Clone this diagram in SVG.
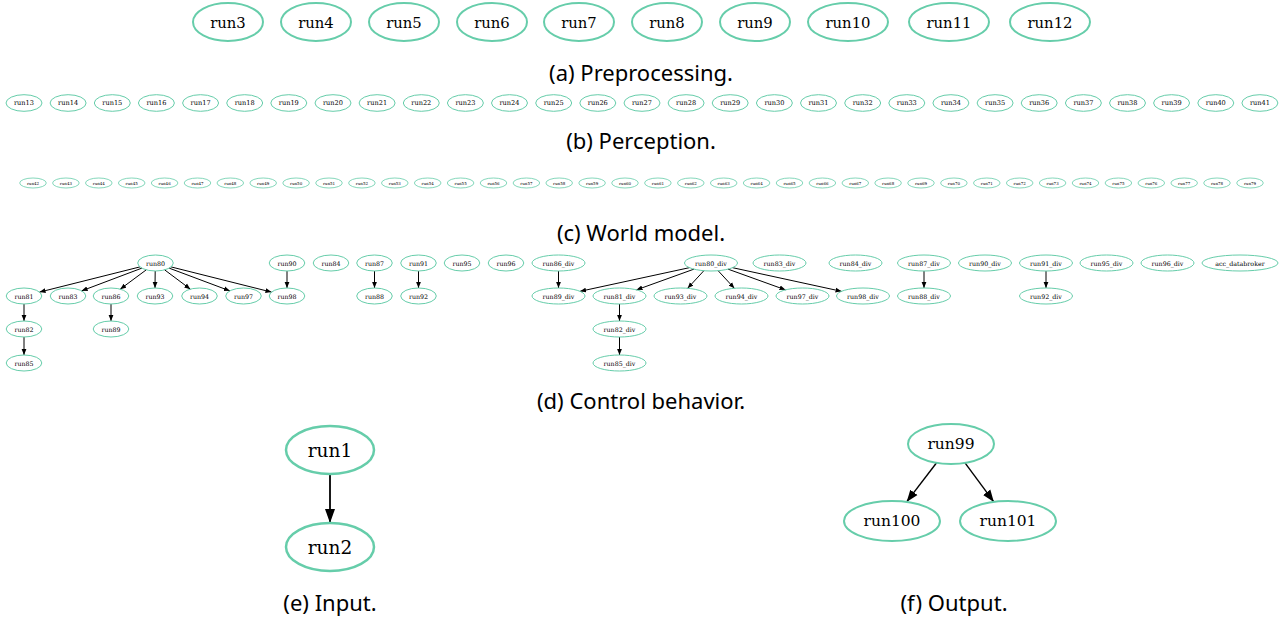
<svg xmlns="http://www.w3.org/2000/svg" width="1282" height="621" viewBox="0 0 1282 621">
<style>
ellipse{fill:none;stroke:#66cdaa}
text{font-family:"DejaVu Serif","Liberation Serif",serif;fill:#000;text-anchor:middle;dominant-baseline:central}
.a ellipse{stroke-width:2}
.a text{font-size:14.8px}
.b ellipse{stroke-width:1}
.b text{font-size:6.6px}
.c ellipse{stroke-width:0.8}
.c text{font-size:4px}
.d ellipse{stroke-width:1}
.d text{font-size:6.3px}
.e ellipse{stroke-width:2.5}
.e text{font-size:18.5px}
.f ellipse{stroke-width:2}
.f text{font-size:15.5px}
.cap{font-family:"Noto Sans","Open Sans",sans-serif;font-size:22px;dominant-baseline:auto;fill:#000}
.edges line{stroke:#000;stroke-width:1}
.edges.big line{stroke-width:1.8}
.edges.mid line{stroke-width:1.4}
</style>
<defs>
<marker id="ahs" markerUnits="userSpaceOnUse" markerWidth="8" markerHeight="6" refX="6" refY="3" orient="auto"><path d="M0,0.6 L6,3 L0,5.4 z" fill="#000"/></marker>
<marker id="ahb" markerUnits="userSpaceOnUse" markerWidth="16" markerHeight="12" refX="14" refY="6" orient="auto"><path d="M0,1 L14,6 L0,11 z" fill="#000"/></marker>
<marker id="ahm" markerUnits="userSpaceOnUse" markerWidth="14" markerHeight="12" refX="12" refY="5" orient="auto"><path d="M0,0.5 L12,5 L0,9.5 z" fill="#000"/></marker>
</defs>
<rect width="1282" height="621" fill="#fff"/>

<!-- (a) Preprocessing -->
<g class="a">
<g id="run3"><ellipse cx="228" cy="22" rx="35" ry="19"/><text x="228" y="22">run3</text></g>
<g id="run4"><ellipse cx="316" cy="22" rx="35" ry="19"/><text x="316" y="22">run4</text></g>
<g id="run5"><ellipse cx="404" cy="22" rx="35" ry="19"/><text x="404" y="22">run5</text></g>
<g id="run6"><ellipse cx="492" cy="22" rx="35" ry="19"/><text x="492" y="22">run6</text></g>
<g id="run7"><ellipse cx="579" cy="22" rx="35" ry="19"/><text x="579" y="22">run7</text></g>
<g id="run8"><ellipse cx="667" cy="22" rx="35" ry="19"/><text x="667" y="22">run8</text></g>
<g id="run9"><ellipse cx="755" cy="22" rx="35" ry="19"/><text x="755" y="22">run9</text></g>
<g id="run10"><ellipse cx="848" cy="22" rx="40" ry="19"/><text x="848" y="22">run10</text></g>
<g id="run11"><ellipse cx="949" cy="22" rx="40" ry="19"/><text x="949" y="22">run11</text></g>
<g id="run12"><ellipse cx="1050" cy="22" rx="40" ry="19"/><text x="1050" y="22">run12</text></g>
</g>
<text class="cap" x="641" y="81">(a) Preprocessing.</text>

<!-- (b) Perception -->
<g class="b">
<g id="run13"><ellipse cx="24" cy="103" rx="18" ry="8.3"/><text x="24" y="103">run13</text></g>
<g id="run14"><ellipse cx="68.1" cy="103" rx="18" ry="8.3"/><text x="68.1" y="103">run14</text></g>
<g id="run15"><ellipse cx="112.3" cy="103" rx="18" ry="8.3"/><text x="112.3" y="103">run15</text></g>
<g id="run16"><ellipse cx="156.4" cy="103" rx="18" ry="8.3"/><text x="156.4" y="103">run16</text></g>
<g id="run17"><ellipse cx="200.6" cy="103" rx="18" ry="8.3"/><text x="200.6" y="103">run17</text></g>
<g id="run18"><ellipse cx="244.7" cy="103" rx="18" ry="8.3"/><text x="244.7" y="103">run18</text></g>
<g id="run19"><ellipse cx="288.8" cy="103" rx="18" ry="8.3"/><text x="288.8" y="103">run19</text></g>
<g id="run20"><ellipse cx="333" cy="103" rx="18" ry="8.3"/><text x="333" y="103">run20</text></g>
<g id="run21"><ellipse cx="377.1" cy="103" rx="18" ry="8.3"/><text x="377.1" y="103">run21</text></g>
<g id="run22"><ellipse cx="421.3" cy="103" rx="18" ry="8.3"/><text x="421.3" y="103">run22</text></g>
<g id="run23"><ellipse cx="465.4" cy="103" rx="18" ry="8.3"/><text x="465.4" y="103">run23</text></g>
<g id="run24"><ellipse cx="509.5" cy="103" rx="18" ry="8.3"/><text x="509.5" y="103">run24</text></g>
<g id="run25"><ellipse cx="553.7" cy="103" rx="18" ry="8.3"/><text x="553.7" y="103">run25</text></g>
<g id="run26"><ellipse cx="597.8" cy="103" rx="18" ry="8.3"/><text x="597.8" y="103">run26</text></g>
<g id="run27"><ellipse cx="642" cy="103" rx="18" ry="8.3"/><text x="642" y="103">run27</text></g>
<g id="run28"><ellipse cx="686.1" cy="103" rx="18" ry="8.3"/><text x="686.1" y="103">run28</text></g>
<g id="run29"><ellipse cx="730.2" cy="103" rx="18" ry="8.3"/><text x="730.2" y="103">run29</text></g>
<g id="run30"><ellipse cx="774.4" cy="103" rx="18" ry="8.3"/><text x="774.4" y="103">run30</text></g>
<g id="run31"><ellipse cx="818.5" cy="103" rx="18" ry="8.3"/><text x="818.5" y="103">run31</text></g>
<g id="run32"><ellipse cx="862.7" cy="103" rx="18" ry="8.3"/><text x="862.7" y="103">run32</text></g>
<g id="run33"><ellipse cx="906.8" cy="103" rx="18" ry="8.3"/><text x="906.8" y="103">run33</text></g>
<g id="run34"><ellipse cx="950.9" cy="103" rx="18" ry="8.3"/><text x="950.9" y="103">run34</text></g>
<g id="run35"><ellipse cx="995.1" cy="103" rx="18" ry="8.3"/><text x="995.1" y="103">run35</text></g>
<g id="run36"><ellipse cx="1039.2" cy="103" rx="18" ry="8.3"/><text x="1039.2" y="103">run36</text></g>
<g id="run37"><ellipse cx="1083.4" cy="103" rx="18" ry="8.3"/><text x="1083.4" y="103">run37</text></g>
<g id="run38"><ellipse cx="1127.5" cy="103" rx="18" ry="8.3"/><text x="1127.5" y="103">run38</text></g>
<g id="run39"><ellipse cx="1171.6" cy="103" rx="18" ry="8.3"/><text x="1171.6" y="103">run39</text></g>
<g id="run40"><ellipse cx="1215.8" cy="103" rx="18" ry="8.3"/><text x="1215.8" y="103">run40</text></g>
<g id="run41"><ellipse cx="1259.9" cy="103" rx="18" ry="8.3"/><text x="1259.9" y="103">run41</text></g>
</g>
<text class="cap" x="641" y="149">(b) Perception.</text>

<!-- (c) World model -->
<g class="c">
<g id="run42"><ellipse cx="33" cy="183" rx="13.3" ry="5"/><text x="33" y="183">run42</text></g>
<g id="run43"><ellipse cx="65.9" cy="183" rx="13.3" ry="5"/><text x="65.9" y="183">run43</text></g>
<g id="run44"><ellipse cx="98.8" cy="183" rx="13.3" ry="5"/><text x="98.8" y="183">run44</text></g>
<g id="run45"><ellipse cx="131.7" cy="183" rx="13.3" ry="5"/><text x="131.7" y="183">run45</text></g>
<g id="run46"><ellipse cx="164.6" cy="183" rx="13.3" ry="5"/><text x="164.6" y="183">run46</text></g>
<g id="run47"><ellipse cx="197.5" cy="183" rx="13.3" ry="5"/><text x="197.5" y="183">run47</text></g>
<g id="run48"><ellipse cx="230.3" cy="183" rx="13.3" ry="5"/><text x="230.3" y="183">run48</text></g>
<g id="run49"><ellipse cx="263.2" cy="183" rx="13.3" ry="5"/><text x="263.2" y="183">run49</text></g>
<g id="run50"><ellipse cx="296.1" cy="183" rx="13.3" ry="5"/><text x="296.1" y="183">run50</text></g>
<g id="run51"><ellipse cx="329" cy="183" rx="13.3" ry="5"/><text x="329" y="183">run51</text></g>
<g id="run52"><ellipse cx="361.9" cy="183" rx="13.3" ry="5"/><text x="361.9" y="183">run52</text></g>
<g id="run53"><ellipse cx="394.8" cy="183" rx="13.3" ry="5"/><text x="394.8" y="183">run53</text></g>
<g id="run54"><ellipse cx="427.7" cy="183" rx="13.3" ry="5"/><text x="427.7" y="183">run54</text></g>
<g id="run55"><ellipse cx="460.6" cy="183" rx="13.3" ry="5"/><text x="460.6" y="183">run55</text></g>
<g id="run56"><ellipse cx="493.5" cy="183" rx="13.3" ry="5"/><text x="493.5" y="183">run56</text></g>
<g id="run57"><ellipse cx="526.4" cy="183" rx="13.3" ry="5"/><text x="526.4" y="183">run57</text></g>
<g id="run58"><ellipse cx="559.2" cy="183" rx="13.3" ry="5"/><text x="559.2" y="183">run58</text></g>
<g id="run59"><ellipse cx="592.1" cy="183" rx="13.3" ry="5"/><text x="592.1" y="183">run59</text></g>
<g id="run60"><ellipse cx="625" cy="183" rx="13.3" ry="5"/><text x="625" y="183">run60</text></g>
<g id="run61"><ellipse cx="657.9" cy="183" rx="13.3" ry="5"/><text x="657.9" y="183">run61</text></g>
<g id="run62"><ellipse cx="690.8" cy="183" rx="13.3" ry="5"/><text x="690.8" y="183">run62</text></g>
<g id="run63"><ellipse cx="723.7" cy="183" rx="13.3" ry="5"/><text x="723.7" y="183">run63</text></g>
<g id="run64"><ellipse cx="756.6" cy="183" rx="13.3" ry="5"/><text x="756.6" y="183">run64</text></g>
<g id="run65"><ellipse cx="789.5" cy="183" rx="13.3" ry="5"/><text x="789.5" y="183">run65</text></g>
<g id="run66"><ellipse cx="822.4" cy="183" rx="13.3" ry="5"/><text x="822.4" y="183">run66</text></g>
<g id="run67"><ellipse cx="855.3" cy="183" rx="13.3" ry="5"/><text x="855.3" y="183">run67</text></g>
<g id="run68"><ellipse cx="888.1" cy="183" rx="13.3" ry="5"/><text x="888.1" y="183">run68</text></g>
<g id="run69"><ellipse cx="921" cy="183" rx="13.3" ry="5"/><text x="921" y="183">run69</text></g>
<g id="run70"><ellipse cx="953.9" cy="183" rx="13.3" ry="5"/><text x="953.9" y="183">run70</text></g>
<g id="run71"><ellipse cx="986.8" cy="183" rx="13.3" ry="5"/><text x="986.8" y="183">run71</text></g>
<g id="run72"><ellipse cx="1019.7" cy="183" rx="13.3" ry="5"/><text x="1019.7" y="183">run72</text></g>
<g id="run73"><ellipse cx="1052.6" cy="183" rx="13.3" ry="5"/><text x="1052.6" y="183">run73</text></g>
<g id="run74"><ellipse cx="1085.5" cy="183" rx="13.3" ry="5"/><text x="1085.5" y="183">run74</text></g>
<g id="run75"><ellipse cx="1118.4" cy="183" rx="13.3" ry="5"/><text x="1118.4" y="183">run75</text></g>
<g id="run76"><ellipse cx="1151.3" cy="183" rx="13.3" ry="5"/><text x="1151.3" y="183">run76</text></g>
<g id="run77"><ellipse cx="1184.2" cy="183" rx="13.3" ry="5"/><text x="1184.2" y="183">run77</text></g>
<g id="run78"><ellipse cx="1217" cy="183" rx="13.3" ry="5"/><text x="1217" y="183">run78</text></g>
<g id="run79"><ellipse cx="1250" cy="183" rx="13.3" ry="5"/><text x="1250" y="183">run79</text></g>
</g>
<text class="cap" x="641" y="241">(c) World model.</text>

<!-- (d) Control behavior -->
<g class="edges">
<line x1="139.96" y1="266.9" x2="39.54" y2="292.1" marker-end="url(#ahs)"/>
<line x1="141.87" y1="268.14" x2="81.63" y2="290.86" marker-end="url(#ahs)"/>
<line x1="146.28" y1="269.84" x2="120.22" y2="289.16" marker-end="url(#ahs)"/>
<line x1="155.2" y1="271" x2="155" y2="288" marker-end="url(#ahs)"/>
<line x1="164.65" y1="269.86" x2="190.35" y2="289.14" marker-end="url(#ahs)"/>
<line x1="169.17" y1="268.13" x2="229.83" y2="290.87" marker-end="url(#ahs)"/>
<line x1="171.04" y1="266.9" x2="271.46" y2="292.1" marker-end="url(#ahs)"/>
<line x1="287" y1="271" x2="287" y2="288" marker-end="url(#ahs)"/>
<line x1="24" y1="304" x2="24" y2="321" marker-end="url(#ahs)"/>
<line x1="24" y1="337" x2="24" y2="355" marker-end="url(#ahs)"/>
<line x1="111" y1="304" x2="111" y2="321" marker-end="url(#ahs)"/>
<line x1="374.5" y1="271" x2="374.5" y2="288" marker-end="url(#ahs)"/>
<line x1="418.5" y1="271" x2="418.5" y2="288" marker-end="url(#ahs)"/>
<line x1="558.5" y1="271" x2="558.5" y2="288" marker-end="url(#ahs)"/>
<line x1="689.46" y1="267.66" x2="580.04" y2="291.34" marker-end="url(#ahs)"/>
<line x1="693.99" y1="269.13" x2="636.51" y2="289.87" marker-end="url(#ahs)"/>
<line x1="703.88" y1="270.7" x2="687.62" y2="288.3" marker-end="url(#ahs)"/>
<line x1="718.12" y1="270.7" x2="734.38" y2="288.3" marker-end="url(#ahs)"/>
<line x1="728.01" y1="269.13" x2="785.49" y2="289.87" marker-end="url(#ahs)"/>
<line x1="732.51" y1="267.67" x2="841.49" y2="291.33" marker-end="url(#ahs)"/>
<line x1="619.5" y1="304" x2="619.5" y2="321" marker-end="url(#ahs)"/>
<line x1="619.5" y1="337" x2="619.5" y2="355" marker-end="url(#ahs)"/>
<line x1="924" y1="271" x2="924" y2="288" marker-end="url(#ahs)"/>
<line x1="1046" y1="271" x2="1046" y2="288" marker-end="url(#ahs)"/>
</g>
<g class="d">
<g id="run80"><ellipse cx="155.5" cy="263" rx="17.8" ry="8"/><text x="155.5" y="263">run80</text></g>
<g id="run81"><ellipse cx="24" cy="296" rx="17.8" ry="8"/><text x="24" y="296">run81</text></g>
<g id="run83"><ellipse cx="68" cy="296" rx="17.8" ry="8"/><text x="68" y="296">run83</text></g>
<g id="run86"><ellipse cx="111" cy="296" rx="17.8" ry="8"/><text x="111" y="296">run86</text></g>
<g id="run93"><ellipse cx="155" cy="296" rx="17.8" ry="8"/><text x="155" y="296">run93</text></g>
<g id="run94"><ellipse cx="199.5" cy="296" rx="17.8" ry="8"/><text x="199.5" y="296">run94</text></g>
<g id="run97"><ellipse cx="243.5" cy="296" rx="17.8" ry="8"/><text x="243.5" y="296">run97</text></g>
<g id="run98"><ellipse cx="287" cy="296" rx="17.8" ry="8"/><text x="287" y="296">run98</text></g>
<g id="run90"><ellipse cx="287" cy="263" rx="17.8" ry="8"/><text x="287" y="263">run90</text></g>
<g id="run82"><ellipse cx="24" cy="329" rx="17.8" ry="8"/><text x="24" y="329">run82</text></g>
<g id="run85"><ellipse cx="24" cy="363" rx="17.8" ry="8"/><text x="24" y="363">run85</text></g>
<g id="run89"><ellipse cx="111" cy="329" rx="17.8" ry="8"/><text x="111" y="329">run89</text></g>
<g id="run84"><ellipse cx="331" cy="263" rx="17.8" ry="8"/><text x="331" y="263">run84</text></g>
<g id="run87"><ellipse cx="374.5" cy="263" rx="17.8" ry="8"/><text x="374.5" y="263">run87</text></g>
<g id="run88"><ellipse cx="374.5" cy="296" rx="17.8" ry="8"/><text x="374.5" y="296">run88</text></g>
<g id="run91"><ellipse cx="418.5" cy="263" rx="17.8" ry="8"/><text x="418.5" y="263">run91</text></g>
<g id="run92"><ellipse cx="418.5" cy="296" rx="17.8" ry="8"/><text x="418.5" y="296">run92</text></g>
<g id="run95"><ellipse cx="462" cy="263" rx="17.8" ry="8"/><text x="462" y="263">run95</text></g>
<g id="run96"><ellipse cx="506" cy="263" rx="17.8" ry="8"/><text x="506" y="263">run96</text></g>
<g id="run86_div"><ellipse cx="558.5" cy="263" rx="26.5" ry="8"/><text x="558.5" y="263">run86_div</text></g>
<g id="run89_div"><ellipse cx="558.5" cy="296" rx="26.5" ry="8"/><text x="558.5" y="296">run89_div</text></g>
<g id="run80_div"><ellipse cx="711" cy="263" rx="26.5" ry="8"/><text x="711" y="263">run80_div</text></g>
<g id="run81_div"><ellipse cx="619.5" cy="296" rx="26.5" ry="8"/><text x="619.5" y="296">run81_div</text></g>
<g id="run82_div"><ellipse cx="619.5" cy="329" rx="26.5" ry="8"/><text x="619.5" y="329">run82_div</text></g>
<g id="run85_div"><ellipse cx="619.5" cy="363" rx="26.5" ry="8"/><text x="619.5" y="363">run85_div</text></g>
<g id="run93_div"><ellipse cx="680.5" cy="296" rx="26.5" ry="8"/><text x="680.5" y="296">run93_div</text></g>
<g id="run94_div"><ellipse cx="741.5" cy="296" rx="26.5" ry="8"/><text x="741.5" y="296">run94_div</text></g>
<g id="run97_div"><ellipse cx="802.5" cy="296" rx="26.5" ry="8"/><text x="802.5" y="296">run97_div</text></g>
<g id="run98_div"><ellipse cx="863" cy="296" rx="26.5" ry="8"/><text x="863" y="296">run98_div</text></g>
<g id="run83_div"><ellipse cx="779.5" cy="263" rx="26.5" ry="8"/><text x="779.5" y="263">run83_div</text></g>
<g id="run84_div"><ellipse cx="855.5" cy="263" rx="26.5" ry="8"/><text x="855.5" y="263">run84_div</text></g>
<g id="run87_div"><ellipse cx="924" cy="263" rx="26.5" ry="8"/><text x="924" y="263">run87_div</text></g>
<g id="run88_div"><ellipse cx="924" cy="296" rx="26.5" ry="8"/><text x="924" y="296">run88_div</text></g>
<g id="run90_div"><ellipse cx="985" cy="263" rx="26.5" ry="8"/><text x="985" y="263">run90_div</text></g>
<g id="run91_div"><ellipse cx="1046" cy="263" rx="26.5" ry="8"/><text x="1046" y="263">run91_div</text></g>
<g id="run92_div"><ellipse cx="1046" cy="296" rx="26.5" ry="8"/><text x="1046" y="296">run92_div</text></g>
<g id="run95_div"><ellipse cx="1106.5" cy="263" rx="26.5" ry="8"/><text x="1106.5" y="263">run95_div</text></g>
<g id="run96_div"><ellipse cx="1167.5" cy="263" rx="26.5" ry="8"/><text x="1167.5" y="263">run96_div</text></g>
<g id="acc_databroker"><ellipse cx="1240" cy="263" rx="38" ry="8"/><text x="1240" y="263">acc_databroker</text></g>
</g>
<text class="cap" x="641" y="409">(d) Control behavior.</text>

<!-- (e) Input -->
<g class="edges big">
<line x1="330" y1="474" x2="330" y2="523" marker-end="url(#ahb)"/>
</g>
<g class="e">
<g id="run1"><ellipse cx="330" cy="450" rx="44" ry="24"/><text x="330" y="450">run1</text></g>
<g id="run2"><ellipse cx="330" cy="547" rx="44" ry="24"/><text x="330" y="547">run2</text></g>
</g>
<text class="cap" x="330" y="611">(e) Input.</text>

<!-- (f) Output -->
<g class="edges mid">
<line x1="936.6" y1="462.8" x2="906.6" y2="501.9" marker-end="url(#ahm)"/>
<line x1="965" y1="462.9" x2="993.85" y2="501.9" marker-end="url(#ahm)"/>
</g>
<g class="f">
<g id="run99"><ellipse cx="951" cy="444" rx="43" ry="20"/><text x="951" y="444">run99</text></g>
<g id="run100"><ellipse cx="892" cy="521" rx="48" ry="20"/><text x="892" y="521">run100</text></g>
<g id="run101"><ellipse cx="1008" cy="521" rx="48" ry="20"/><text x="1008" y="521">run101</text></g>
</g>
<text class="cap" x="954" y="611">(f) Output.</text>
</svg>
